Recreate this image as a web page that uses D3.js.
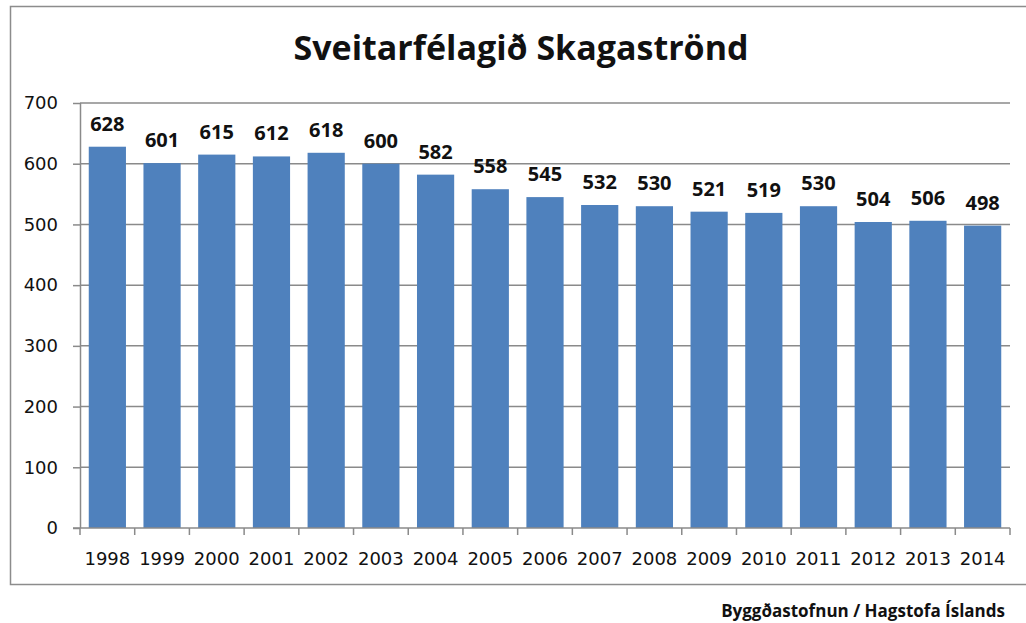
<!DOCTYPE html>
<html>
<head>
<meta charset="utf-8">
<script src="https://cdn.jsdelivr.net/npm/d3@7"></script>
<style>
  body { margin: 0; background: #fff; }
  svg { display: block; }
</style>
</head>
<body>
<svg></svg>
<script>
// Population of Sveitarfélagið Skagaströnd, 1998-2014
var years = ["1998", "1999", "2000", "2001", "2002", "2003", "2004", "2005", "2006",
             "2007", "2008", "2009", "2010", "2011", "2012", "2013", "2014"]
var population = [628, 601, 615, 612, 618, 600, 582, 558, 545,
                  532, 530, 521, 519, 530, 504, 506, 498]
var yTicks = [0, 100, 200, 300, 400, 500, 600, 700]

var titleText = "Sveitarfélagið Skagaströnd"
var sourceText = "Byggðastofnun / Hagstofa Íslands"

var canvasSize = {width: 1026, height: 623}
var plot = {left: 80, right: 1010, top: 103, bottom: 528}

var svg = d3.select("svg")
    .attr("width", canvasSize.width)
    .attr("height", canvasSize.height)

// Outer chart frame
svg.append("rect")
    .attr("x", 10.5).attr("y", 6.5)
    .attr("width", 1030).attr("height", 578)
    .attr("fill", "none")
    .attr("stroke", "#8c8c8c")
    .attr("stroke-width", 1.5)

var x = d3.scaleBand()
    .domain(years)
    .range([plot.left, plot.right])
    .paddingInner(0.32)
    .paddingOuter(0.16)

var y = d3.scaleLinear()
    .domain([0, 700])
    .range([plot.bottom, plot.top])

// Horizontal gridlines
svg.append("g")
    .selectAll("line")
    .data(yTicks.filter(d => d > 0))
    .enter().append("line")
        .attr("x1", plot.left)
        .attr("x2", plot.right)
        .attr("y1", d => y(d))
        .attr("y2", d => y(d))
        .attr("stroke", "#8a8a8a")
        .attr("stroke-width", 1.5)

// Bars
svg.append("g")
    .selectAll("rect")
    .data(years)
    .enter().append("rect")
        .attr("x", d => x(d))
        .attr("width", x.bandwidth())
        .attr("y", (d, i) => y(population[i]))
        .attr("height", (d, i) => y(0) - y(population[i]))
        .attr("fill", "#4f81bd")

// Value labels
svg.append("g")
    .selectAll("text")
    .data(years)
    .enter().append("text")
        .attr("x", d => x(d) + x.bandwidth() / 2)
        .attr("y", (d, i) => y(population[i]) - 16)
        .attr("text-anchor", "middle")
        .attr("font-family", "'Open Sans', sans-serif")
        .attr("font-weight", "bold")
        .attr("font-size", 20)
        .attr("fill", "#111")
        .text((d, i) => population[i])

// Y axis
var yAxis = d3.axisLeft(y)
    .tickValues(yTicks)
    .tickSize(7)
    .tickPadding(15)
var yAxisG = svg.append("g")
    .attr("transform", `translate(${plot.left},0)`)
    .call(yAxis)
yAxisG.select(".domain").attr("stroke", "#8a8a8a").attr("stroke-width", 1.5)
    .attr("d", `M0.5,${plot.top}V${plot.bottom}`)
yAxisG.selectAll(".tick line").attr("stroke", "#8a8a8a").attr("stroke-width", 1.5)
yAxisG.selectAll(".tick text")
    .attr("font-family", "'DejaVu Sans', sans-serif")
    .attr("font-size", 18)
    .attr("fill", "#111")

// X axis: ticks sit between categories
var xAxisG = svg.append("g")
    .attr("transform", `translate(0,${plot.bottom})`)
xAxisG.append("line")
    .attr("x1", plot.left - 7).attr("x2", plot.right)
    .attr("stroke", "#8a8a8a").attr("stroke-width", 1.5)
xAxisG.selectAll(".sep")
    .data(d3.range(years.length + 1))
    .enter().append("line")
        .attr("class", "sep")
        .attr("x1", i => plot.left + i * x.step())
        .attr("x2", i => plot.left + i * x.step())
        .attr("y1", 0).attr("y2", 7)
        .attr("stroke", "#8a8a8a").attr("stroke-width", 1.5)
xAxisG.selectAll("text")
    .data(years)
    .enter().append("text")
        .attr("x", d => x(d) + x.bandwidth() / 2)
        .attr("y", 37)
        .attr("text-anchor", "middle")
        .attr("font-family", "'DejaVu Sans', sans-serif")
        .attr("font-size", 18)
        .attr("fill", "#111")
        .text(d => d)

// Title
svg.append("text")
    .attr("x", 521)
    .attr("y", 60)
    .attr("text-anchor", "middle")
    .attr("font-family", "'Open Sans', sans-serif")
    .attr("font-weight", "bold")
    .attr("font-size", 34)
    .attr("fill", "#111")
    .text(titleText)

// Source note
svg.append("text")
    .attr("x", 1005)
    .attr("y", 617)
    .attr("text-anchor", "end")
    .attr("font-family", "'Open Sans', sans-serif")
    .attr("font-weight", "bold")
    .attr("font-size", 17)
    .attr("fill", "#111")
    .text(sourceText)
</script>
</body>
</html>
